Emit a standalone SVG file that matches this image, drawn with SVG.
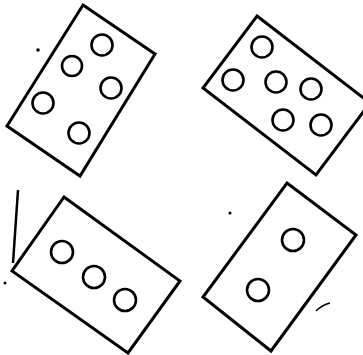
<svg xmlns="http://www.w3.org/2000/svg" width="363" height="355" viewBox="0 0 363 355">
<style>
.card{fill:none;stroke:#000;stroke-width:3;stroke-linejoin:miter}
.dot{fill:none;stroke:#000;stroke-width:2.6}
.speck{fill:#000}
</style>
<rect width="363" height="355" fill="#fff"/>
<g id="card1">
<polygon class="card" points="83,5 155,54 80,176 7,126"/>
<circle class="dot" cx="102" cy="45" r="10.5"/>
<circle class="dot" cx="72" cy="66" r="10"/>
<circle class="dot" cx="111" cy="88" r="10.5"/>
<circle class="dot" cx="43" cy="103" r="10.5"/>
<circle class="dot" cx="79" cy="133" r="10.5"/>
</g>
<g id="card2">
<polygon class="card" points="257,16 370,103 316,175 203,88"/>
<circle class="dot" cx="262" cy="47" r="10.5"/>
<circle class="dot" cx="233" cy="80" r="10.5"/>
<circle class="dot" cx="276" cy="82" r="10.5"/>
<circle class="dot" cx="311" cy="89" r="10.5"/>
<circle class="dot" cx="283" cy="120" r="10.5"/>
<circle class="dot" cx="321" cy="125" r="10.5"/>
</g>
<g id="card3">
<polygon class="card" points="64,197 180,281 128,353 12,271"/>
<circle class="dot" cx="62" cy="252" r="11"/>
<circle class="dot" cx="94" cy="277" r="11"/>
<circle class="dot" cx="125" cy="300" r="11"/>
</g>
<g id="card4">
<polygon class="card" points="287,183 356,235 271,351 203,297"/>
<circle class="dot" cx="293" cy="240" r="11"/>
<circle class="dot" cx="258" cy="290" r="11"/>
</g>
<g id="marks">
<line x1="18" y1="190" x2="13" y2="263" stroke="#000" stroke-width="2.5"/>
<circle class="speck" cx="38" cy="50" r="1.8"/>
<circle class="speck" cx="5" cy="283" r="1.5"/>
<circle class="speck" cx="230" cy="213" r="1.5"/>
<path d="M316,311 Q322,305 330,303" fill="none" stroke="#000" stroke-width="1.5"/>
</g>
</svg>
